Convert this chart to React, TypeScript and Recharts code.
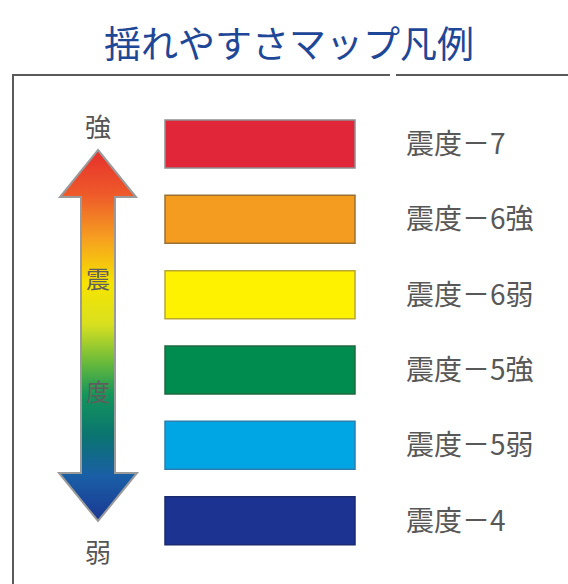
import { Bar, BarChart, Cell, LabelList, XAxis, YAxis } from 'recharts';

const levels = ['震度－7', '震度－6強', '震度－6弱', '震度－5強', '震度－5弱', '震度－4'];
const fills = ['#e1263a', '#f39c1f', '#fff200', '#008c4f', '#00a6e4', '#1d3391'];
const strokes = ['#8e8e8e', '#9a7030', '#b8a830', '#1f6a40', '#2a7fb0', '#1a2a70'];
const spans = [1, 1, 1, 1, 1, 1];

const data = levels.map((name, i) => ({ name, value: spans[i] }));

const FONT = '"Noto Sans CJK JP", "Noto Sans", sans-serif';

/** Vertical double-headed arrow with the red-to-blue intensity gradient. */
function IntensityArrow() {
  const pts = '98,150 136,197 115,197 115,473 137,473 98,521 59,473 81,473 81,197 60,197';
  return (
    <svg
      width={568}
      height={584}
      style={{ position: 'absolute', left: 0, top: 0, pointerEvents: 'none' }}
    >
      <defs>
        <linearGradient id="shindoGrad" x1="0" y1="150" x2="0" y2="521" gradientUnits="userSpaceOnUse">
          <stop offset="0%" stopColor="#e62f2c" />
          <stop offset="12%" stopColor="#ee5a2a" />
          <stop offset="24%" stopColor="#f6a020" />
          <stop offset="36%" stopColor="#f7e400" />
          <stop offset="47%" stopColor="#d8e020" />
          <stop offset="57%" stopColor="#6cbb3a" />
          <stop offset="66%" stopColor="#14955a" />
          <stop offset="77%" stopColor="#0a7470" />
          <stop offset="88%" stopColor="#1a5ea6" />
          <stop offset="100%" stopColor="#1b3892" />
        </linearGradient>
      </defs>
      <polygon points={pts} fill="url(#shindoGrad)" stroke="#9a9a9a" strokeWidth={2} strokeLinejoin="miter" />
      <text x={98} y={125} textAnchor="middle" dominantBaseline="central" fontSize={26} fill="#555" fontFamily={FONT}>
        強
      </text>
      <text x={98} y={550} textAnchor="middle" dominantBaseline="central" fontSize={26} fill="#555" fontFamily={FONT}>
        弱
      </text>
      <text x={98} y={277} textAnchor="middle" dominantBaseline="central" fontSize={24} fill="#5e5e5e" fontFamily={FONT}>
        震
      </text>
      <text x={98} y={390} textAnchor="middle" dominantBaseline="central" fontSize={24} fill="#5e5e5e" fontFamily={FONT}>
        度
      </text>
    </svg>
  );
}

export default function App() {
  return (
    <div
      style={{
        position: 'fixed',
        left: 0,
        top: 0,
        width: 568,
        height: 584,
        background: '#fff',
        overflow: 'hidden',
        fontFamily: FONT,
      }}
    >
      <div
        style={{
          position: 'absolute',
          left: 0,
          top: 16,
          width: 578,
          textAlign: 'center',
          fontSize: 37,
          lineHeight: '52px',
          color: '#1f4797',
        }}
      >
        揺れやすさマップ凡例
      </div>
      {/* frame: top rule with a small break, and left rule */}
      <div style={{ position: 'absolute', left: 12, top: 74, width: 378, height: 2, background: '#5a5a5a' }} />
      <div style={{ position: 'absolute', left: 396, top: 74, width: 172, height: 2, background: '#5a5a5a' }} />
      <div style={{ position: 'absolute', left: 12, top: 74, width: 2, height: 510, background: '#5a5a5a' }} />

      <div style={{ position: 'absolute', left: 0, top: 0 }}>
        <BarChart
          width={568}
          height={584}
          data={data}
          layout="vertical"
          margin={{ top: 106, right: 213, bottom: 26, left: 165 }}
        >
          <XAxis type="number" domain={[0, 1]} hide />
          <YAxis type="category" dataKey="name" hide />
          <Bar dataKey="value" barSize={48} isAnimationActive={false}>
            {data.map((d, i) => (
              <Cell key={d.name} fill={fills[i]} stroke={strokes[i]} strokeWidth={1.5} />
            ))}
            <LabelList
              dataKey="name"
              position="right"
              offset={51}
              fill="#585858"
              fontSize={28}
              fontFamily={FONT}
            />
          </Bar>
        </BarChart>
      </div>
      <IntensityArrow />
    </div>
  );
}
